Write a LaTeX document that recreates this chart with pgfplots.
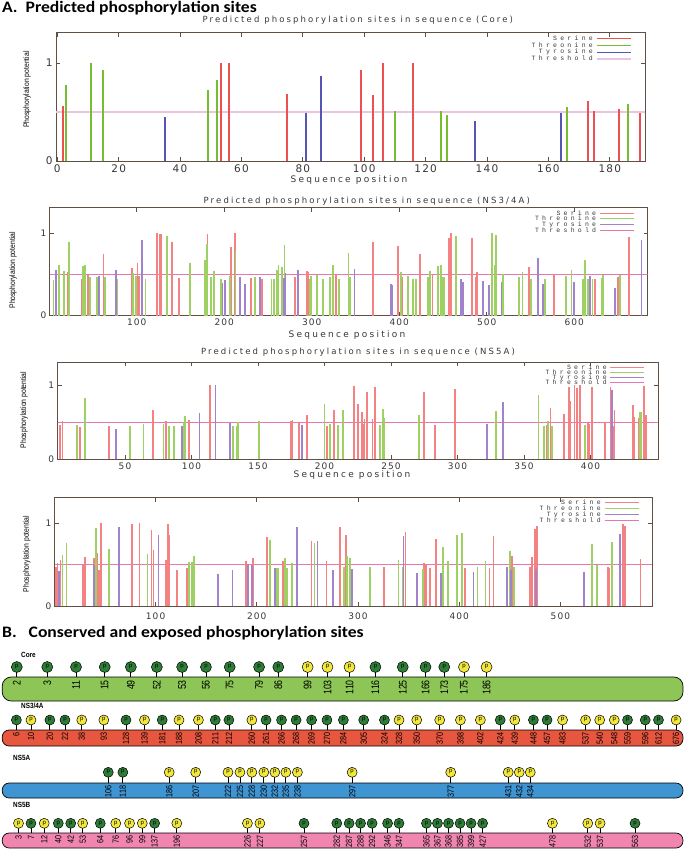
\documentclass[border=0pt]{standalone}
\usepackage{fontspec}
\usepackage{pgfplots}
\pgfplotsset{compat=1.18}
\setmainfont{Liberation Sans}
\newfontfamily\gpfont[LetterSpace=12]{DejaVu Sans}
\newfontfamily\ttlfont[LetterSpace=25]{DejaVu Sans}
\newfontfamily\legfont[LetterSpace=50]{Liberation Mono}
\newfontfamily\narrowfont[FakeStretch=0.85]{Liberation Sans}
\newfontfamily\numfont[FakeStretch=0.8]{Liberation Sans}
\newfontfamily\headfont[FakeStretch=1.1]{Carlito}
\definecolor{axc}{RGB}{95,80,70}
\definecolor{txt}{RGB}{55,55,55}
\definecolor{serC}{RGB}{236,80,80}
\definecolor{thrC}{RGB}{120,188,50}
\definecolor{tyrC}{RGB}{85,85,180}
\definecolor{thlC}{RGB}{236,196,224}
\definecolor{ser}{RGB}{244,130,130}
\definecolor{thr}{RGB}{158,208,100}
\definecolor{tyr}{RGB}{160,130,205}
\definecolor{thl}{RGB}{228,120,175}
\definecolor{coreBar}{RGB}{141,198,86}
\definecolor{nsBar}{RGB}{231,86,62}
\definecolor{naBar}{RGB}{63,148,210}
\definecolor{nbBar}{RGB}{240,134,176}
\definecolor{headG}{RGB}{45,125,55}
\definecolor{headY}{RGB}{242,232,60}
\pgfplotsset{
 phos/.style={scale only axis, anchor=south west,
  axis line style={draw=axc, line width=1pt},
  every tick/.style={draw=axc, line width=0.8pt},
  major tick length=4pt, tick align=inside, xtick pos=both, ytick pos=both,
  ymin=0, ymax=1.31, ytick={0,1}, yticklabels={0,1},
  ticklabel style={font=\gpfont\fontsize{9}{9}\selectfont, text=txt},
  /pgf/number format/assume math mode=true,
  legend cell align=right, legend plot pos=right,
  legend style={draw=none, fill=none, font=\legfont\fontsize{6.5}{6.5}\selectfont, text=txt,
    inner sep=0pt, column sep=3pt, anchor=north east,
    nodes={inner sep=0.4pt, text height=4pt, text depth=0pt}},
  legend image code/.code={\draw[##1] (0pt,0pt) -- (34pt,0pt);},
  title style={font=\ttlfont\fontsize{8.5}{8.5}\selectfont, text=txt, anchor=center, yshift=0pt},
  xlabel style={font=\ttlfont\fontsize{9}{9}\selectfont, text=txt, anchor=center},
  ylabel style={font=\narrowfont\fontsize{8}{8}\selectfont, text=black, anchor=center}},
 bars/.style={ycomb, line width=1.7pt, forget plot},
 headbase/.style={only marks, mark=*, mark size=5pt,
  error bars/y dir=minus, error bars/y fixed=#1, error bars/error mark=none,
  error bars/error bar style={black, line width=0.8pt},
  nodes near coords={p}, every node near coord/.append style={anchor=center, inner sep=0pt, yshift=0.3pt, font=\fontsize{6}{6}\selectfont, text=black}},
 headG/.style={headbase=#1, mark options={fill=headG, draw=black, line width=0.5pt}},
 headY/.style={headbase=#1, mark options={fill=headY, draw=black, line width=0.5pt}},
 nums/.style={draw=none, nodes near coords, point meta=explicit symbolic,
  every node near coord/.append style={rotate=90, anchor=east, inner sep=0pt, font=\numfont\fontsize{#1}{#1}\selectfont, text=black}}
}
\begin{document}
\begin{tikzpicture}[x=1pt,y=1pt]
\path[use as bounding box] (0,0) rectangle (685,-852);
\node[anchor=west, inner sep=0pt, font=\headfont\bfseries\fontsize{16}{16}\selectfont] at (2,-8.5) {A.\ \ Predicted phosphorylation sites};
\node[anchor=west, inner sep=0pt, font=\headfont\bfseries\fontsize{16}{16}\selectfont] at (2,-633) {B.\ \ \ Conserved and exposed phosphorylation sites};

% ---------------- Core
\begin{axis}[phos, at={(56pt,-161pt)}, width=589.4pt, height=128.3pt,
  xmin=-0.4, xmax=191.6, xtick={0,20,...,180},
  ticklabel style={font=\gpfont\fontsize{10.5}{10.5}\selectfont},
  title={Predicted phosphorylation sites in sequence (Core)},
  title style={at={(axis description cs:0.512,1.052)}},
  xlabel={Sequence position}, xlabel style={at={(axis description cs:0.497,-0.148)}},
  ylabel={Phosphorylation potential}, ylabel style={at={(axis description cs:-0.049,0.557)}},
  legend style={at={(0.978,0.975)}, row sep=1.9pt}]
\addlegendimage{serC, line width=0.8pt}\addlegendentry{Serine}
\addlegendimage{thrC, line width=0.8pt}\addlegendentry{Threonine}
\addlegendimage{tyrC, line width=0.8pt}\addlegendentry{Tyrosine}
\addlegendimage{thlC, line width=2pt}\addlegendentry{Threshold}
\addplot[thlC, line width=2.5pt, forget plot] coordinates {(-0.4,0.5) (191.6,0.5)};
\addplot[bars, serC, line width=2pt] coordinates {(2,0.56) (53.2,1.0) (56,1.0) (75,0.68) (99,0.93) (103,0.67) (106,1.0) (116,1.0) (173,0.61) (175,0.51) (183,0.53) (190,0.49)};
\addplot[bars, thrC, line width=2pt] coordinates {(3,0.78) (11,1.0) (15,0.925) (49,0.73) (52,0.83) (110,0.51) (125,0.51) (127,0.47) (166,0.55) (186,0.58)};
\addplot[bars, tyrC, line width=2pt] coordinates {(35,0.45) (81,0.49) (86,0.87) (136,0.41) (164,0.49)};
\end{axis}

% ---------------- NS3/4A
\begin{axis}[phos, at={(50pt,-315.7pt)}, width=597.7pt, height=108pt,
  xmin=0.9, xmax=684, xtick={100,200,...,600},
  title={Predicted phosphorylation sites in sequence (NS3/4A)},
  title style={at={(axis description cs:0.53,1.006)}},
  xlabel={Sequence position}, xlabel style={at={(axis description cs:0.497,-0.179)}},
  ylabel={Phosphorylation potential}, ylabel style={at={(axis description cs:-0.062,0.42)}},
  legend style={at={(0.978,0.975)}, row sep=1pt}]
\addlegendimage{ser, line width=0.8pt}\addlegendentry{Serine}
\addlegendimage{thr, line width=0.8pt}\addlegendentry{Threonine}
\addlegendimage{tyr, line width=0.8pt}\addlegendentry{Tyrosine}
\addlegendimage{thl, line width=0.8pt}\addlegendentry{Threshold}
\addplot[thl, line width=0.8pt, forget plot] coordinates {(0.9,0.5) (684,0.5)};
\addplot[bars, ser] coordinates {(21,0.53) (37,0.44) (44,0.49) (62,0.75) (95,0.58) (101,0.64) (103,0.48) (123,1.0) (126,0.99) (128,0.99) (140,0.89) (148,0.46) (181,0.99) (189,0.52) (208,0.83) (212,1.0) (231,0.46) (243,0.44) (281,0.465) (295,0.54) (296,0.525) (328,0.50) (370,0.90) (399,0.85) (403,0.47) (424,0.75) (438,0.50) (457,0.94) (459,1.0) (483,0.94) (488,0.47) (489,0.53) (548,0.595) (577,0.50) (624,0.445) (650,0.47) (663,0.96)};
\addplot[bars, thr] coordinates {(5,0.43) (11,0.61) (17,0.54) (23,0.89) (39,0.60) (41,0.615) (47,0.47) (55,0.47) (64,0.47) (78,0.445) (96,0.52) (99,0.485) (110,0.445) (135,0.97) (161,0.645) (178,0.68) (180,0.87) (185,0.47) (188,0.54) (196,0.45) (207,0.48) (213,0.79) (235,0.47) (254,0.45) (257,0.45) (260,0.555) (262,0.61) (266,0.59) (269,0.86) (298,0.45) (299,0.48) (306,0.49) (313,0.45) (321,0.47) (324,0.615) (331,0.445) (342,0.76) (344,0.47) (402,0.53) (410,0.485) (416,0.45) (419,0.44) (433,0.47) (435,0.54) (444,0.60) (445,0.46) (448,0.61) (449,0.465) (451,0.465) (465,0.97) (506,1.0) (509,0.61) (511,0.98) (519,0.51) (537,0.47) (541,0.53) (551,0.45) (567,0.45) (591,0.48) (597,0.55) (610,0.45) (612,0.67) (616,0.45) (621,0.445) (632,0.46) (633,0.49) (652,0.49)};
\addplot[bars, tyr] coordinates {(8,0.555) (57,0.485) (76,0.555) (106,0.92) (198,0.40) (201,0.43) (218,0.47) (224,0.38) (241,0.465) (268,0.46) (270,0.52) (284,0.56) (349,0.57) (391,0.38) (392,0.37) (471,0.45) (473,0.41) (496,0.42) (503,0.37) (517,0.41) (559,0.70) (564,0.38) (600,0.41) (618,0.48) (647,0.34) (677,0.92)};
\end{axis}

% ---------------- NS5A
\begin{axis}[phos, at={(57.7pt,-459.3pt)}, width=600.6pt, height=97.3pt,
  xmin=-0.6, xmax=451, xtick={50,100,...,400},
  title={Predicted phosphorylation sites in sequence (NS5A)},
  title style={at={(axis description cs:0.5,1.041)}},
  xlabel={Sequence position}, xlabel style={at={(axis description cs:0.49,-0.161)}},
  ylabel={Phosphorylation potential}, ylabel style={at={(axis description cs:-0.056,0.507)}},
  legend style={at={(0.978,0.975)}, row sep=0.3pt}]
\addlegendimage{ser, line width=0.8pt}\addlegendentry{Serine}
\addlegendimage{thr, line width=0.8pt}\addlegendentry{Threonine}
\addlegendimage{tyr, line width=0.8pt}\addlegendentry{Tyrosine}
\addlegendimage{thl, line width=0.8pt}\addlegendentry{Threshold}
\addplot[thl, line width=0.8pt, forget plot] coordinates {(-0.6,0.5) (451,0.5)};
\addplot[bars, ser] coordinates {(1,0.46) (3,0.51) (16,0.44) (38,0.45) (71,0.67) (81,0.52) (98,0.53) (114,1.0) (175,0.52) (176,0.53) (181,0.49) (187,0.60) (202,0.45) (207,0.67) (222,0.99) (225,0.75) (228,0.64) (229,0.48) (230,0.54) (232,0.91) (236,0.54) (238,0.98) (275,0.91) (283,0.46) (298,0.95) (367,0.46) (370,0.69) (380,0.61) (384,0.97) (385,0.78) (388,1.0) (390,0.96) (392,1.0) (398,0.49) (399,0.47) (401,0.98) (411,0.50) (415,0.97) (417,0.45) (418,0.67) (432,0.725) (433,0.57) (436,0.56) (440,0.99) (442,0.59)};
\addplot[bars, thr] coordinates {(14,0.46) (20,0.83) (54,0.45) (64,0.48) (79,0.48) (83,0.45) (87,0.45) (94,0.50) (95,0.58) (131,0.45) (134,0.45) (135,0.50) (151,0.52) (200,0.75) (204,0.47) (210,0.46) (214,0.67) (242,0.46) (244,0.68) (245,0.56) (271,0.60) (329,0.65) (361,0.87) (365,0.45) (368,0.52) (371,0.45) (396,0.46) (437,0.64) (438,0.64)};
\addplot[bars, tyr] coordinates {(43,0.41) (93,0.45) (106,0.62) (118,0.995) (129,0.49) (183,0.465) (322,0.48) (334,0.775) (416,0.93)};
\end{axis}

% ---------------- NS5B
\begin{axis}[phos, at={(55pt,-606pt)}, width=597.3pt, height=108.3pt,
  xmin=0.6, xmax=590.8, xtick={100,200,...,500},
  xticklabel style={yshift=-3pt},
  ylabel={Phosphorylation potential}, ylabel style={at={(axis description cs:-0.047,0.48)}},
  legend style={at={(0.978,0.978)}, row sep=1.2pt}]
\addlegendimage{ser, line width=0.8pt}\addlegendentry{Serine}
\addlegendimage{thr, line width=0.8pt}\addlegendentry{Threonine}
\addlegendimage{tyr, line width=0.8pt}\addlegendentry{Tyrosine}
\addlegendimage{thl, line width=0.8pt}\addlegendentry{Threshold}
\addplot[thl, line width=0.8pt, forget plot] coordinates {(0.6,0.5) (590.8,0.5)};
\addplot[bars, ser] coordinates {(1.6,0.475) (3,0.52) (6,0.56) (28,0.49) (30,0.59) (39,0.58) (42,0.64) (44,0.435) (46,1.0) (77,0.99) (84,1.0) (96,0.92) (98,0.68) (110,0.56) (112,0.99) (113.5,0.86) (121,0.44) (131,0.46) (189,0.54) (196,0.58) (210,0.83) (226,0.54) (254,0.79) (269,0.54) (282,0.96) (288,0.86) (326,0.47) (347,0.89) (365,0.52) (367,0.51) (371,0.455) (377,0.81) (406,0.455) (430,0.46) (434,0.85) (452,0.61) (470,0.475) (472,0.59) (475,0.93) (477,0.97) (547,0.475) (548,0.46) (562,0.99) (564,0.97) (579,0.57)};
\addplot[bars, thr] coordinates {(8,0.62) (12,0.76) (40,0.50) (41,0.94) (54,0.69) (92,0.625) (133,0.53) (136,0.53) (138,0.60) (213,0.80) (219,0.455) (221,0.455) (228,0.585) (230,0.46) (235,0.52) (257,0.76) (286,0.47) (289,0.60) (292,0.58) (312,0.475) (340,0.56) (344,0.475) (364,0.45) (384,0.71) (389,0.54) (398,0.86) (403,0.88) (418,0.475) (426,0.545) (450,0.665) (454,0.475) (531,0.745) (536,0.50) (551,0.77)};
\addplot[bars, tyr] coordinates {(4.5,0.42) (39,0.49) (64,0.96) (103,0.86) (162,0.39) (176,0.435) (191,0.50) (195,0.50) (218,0.455) (240,0.95) (260,0.79) (275,0.435) (294,0.45) (345,0.85) (358,0.395) (382,0.40) (414,0.415) (447,0.475) (451,0.435) (476,0.45) (523,0.41) (559,0.87)};
\end{axis}

% ---------------- Part B
\begin{axis}[scale only axis, anchor=south west, at={(0pt,-852pt)}, width=685pt, height=200pt,
  xmin=0, xmax=676.9, ymin=-852, ymax=-652, hide axis, clip=false]
\addplot[fill=coreBar, draw=black, line width=0.7pt, rounded corners=9pt] coordinates {(2.2,-701) (674.9,-701) (674.9,-677) (2.2,-677)} -- cycle;
\addplot[fill=nsBar, draw=black, line width=0.7pt, rounded corners=7pt] coordinates {(2.2,-746) (674.9,-746) (674.9,-730) (2.2,-730)} -- cycle;
\addplot[fill=naBar, draw=black, line width=0.7pt, rounded corners=7pt] coordinates {(2.2,-798) (674.9,-798) (674.9,-783) (2.2,-783)} -- cycle;
\addplot[fill=nbBar, draw=black, line width=0.7pt, rounded corners=7pt] coordinates {(2.2,-848) (674.9,-848) (674.9,-833) (2.2,-833)} -- cycle;
% Core
\addplot[headG=10, mark size=5.5pt] table[row sep=\\]{x y\\ 16.6 -667\\ 46.7 -667\\ 75.1 -667\\ 103.5 -667\\ 129.3 -667\\ 155 -667\\ 180 -667\\ 203.5 -667\\ 227 -667\\ 256 -667\\ 275 -667\\ 371 -667\\ 398 -667\\ 420.5 -667\\ 439 -667\\};
\addplot[headY=10, mark size=5.5pt] table[row sep=\\]{x y\\ 304 -667\\ 323.6 -667\\ 345.4 -667\\ 458.5 -667\\ 480.8 -667\\};
\addplot[nums=11] table[row sep=\\, meta=n]{x y n\\ 16.6 -680 2\\ 46.7 -680 3\\ 75.1 -680 11\\ 103.5 -680 15\\ 129.3 -680 49\\ 155 -680 52\\ 180 -680 53\\ 203.5 -680 56\\ 227 -680 75\\ 256 -680 79\\ 275 -680 86\\ 304 -680 99\\ 323.6 -680 103\\ 345.4 -680 110\\ 371 -680 116\\ 398 -680 125\\ 420.5 -680 166\\ 439 -680 173\\ 458.5 -680 175\\ 480.8 -680 186\\};
% NS3/4A
\addplot[headG=10] table[row sep=\\]{x y\\ 16.2 -720\\ 49.3 -720\\ 64.2 -720\\ 124.5 -720\\ 160.3 -720\\ 212.7 -720\\ 226.2 -720\\ 262.9 -720\\ 278.2 -720\\ 292.6 -720\\ 307.9 -720\\ 323.1 -720\\ 339.3 -720\\ 359.4 -720\\ 379.9 -720\\ 494.3 -720\\ 527.1 -720\\ 540.6 -720\\ 620.1 -720\\ 637.6 -720\\ 650.7 -720\\};
\addplot[headY=10] table[row sep=\\]{x y\\ 30.6 -720\\ 80.8 -720\\ 102.6 -720\\ 142.8 -720\\ 176.9 -720\\ 196.1 -720\\ 248.9 -720\\ 394.3 -720\\ 411.8 -720\\ 434.5 -720\\ 455 -720\\ 474.7 -720\\ 508.7 -720\\ 555.9 -720\\ 578.6 -720\\ 592.6 -720\\ 607 -720\\ 668.1 -720\\};
\addplot[nums=9] table[row sep=\\, meta=n]{x y n\\ 16.2 -732.5 6\\ 30.6 -732.5 10\\ 49.3 -732.5 20\\ 64.2 -732.5 22\\ 80.8 -732.5 38\\ 102.6 -732.5 93\\ 124.5 -732.5 128\\ 142.8 -732.5 139\\ 160.3 -732.5 181\\ 176.9 -732.5 188\\ 196.1 -732.5 208\\ 212.7 -732.5 211\\ 226.2 -732.5 212\\ 248.9 -732.5 260\\ 262.9 -732.5 261\\ 278.2 -732.5 266\\ 292.6 -732.5 268\\ 307.9 -732.5 269\\ 323.1 -732.5 270\\ 339.3 -732.5 284\\ 359.4 -732.5 305\\ 379.9 -732.5 324\\ 394.3 -732.5 328\\ 411.8 -732.5 350\\ 434.5 -732.5 370\\ 455 -732.5 398\\ 474.7 -732.5 402\\ 494.3 -732.5 424\\ 508.7 -732.5 439\\ 527.1 -732.5 448\\ 540.6 -732.5 457\\ 555.9 -732.5 483\\ 578.6 -732.5 537\\ 592.6 -732.5 540\\ 607 -732.5 548\\ 620.1 -732.5 559\\ 637.6 -732.5 596\\ 650.7 -732.5 612\\ 668.1 -732.5 676\\};
% NS5A
\addplot[headG=11] table[row sep=\\]{x y\\ 107 -772.3\\ 121.4 -772.3\\};
\addplot[headY=11] table[row sep=\\]{x y\\ 167.2 -772.3\\ 193.4 -772.3\\ 225.3 -772.3\\ 237.1 -772.3\\ 248.9 -772.3\\ 260.7 -772.3\\ 271.6 -772.3\\ 282.5 -772.3\\ 293.9 -772.3\\ 348 -772.3\\ 445.4 -772.3\\ 502.2 -772.3\\ 513.1 -772.3\\ 524 -772.3\\};
\addplot[nums=9] table[row sep=\\, meta=n]{x y n\\ 107 -785.5 106\\ 121.4 -785.5 118\\ 167.2 -785.5 186\\ 193.4 -785.5 207\\ 225.3 -785.5 222\\ 237.1 -785.5 225\\ 248.9 -785.5 228\\ 260.7 -785.5 230\\ 271.6 -785.5 232\\ 282.5 -785.5 235\\ 293.9 -785.5 238\\ 348 -785.5 297\\ 445.4 -785.5 377\\ 502.2 -785.5 431\\ 513.1 -785.5 432\\ 524 -785.5 434\\};
% NS5B
\addplot[headG=10] table[row sep=\\]{x y\\ 30.6 -823.3\\ 57.6 -823.3\\ 69.9 -823.3\\ 99.1 -823.3\\ 152.8 -823.3\\ 300.4 -823.3\\ 332.8 -823.3\\ 345 -823.3\\ 356.3 -823.3\\ 367.7 -823.3\\ 383 -823.3\\ 394.3 -823.3\\ 421.4 -823.3\\ 432.3 -823.3\\ 443.2 -823.3\\ 454.6 -823.3\\ 465.5 -823.3\\ 476.9 -823.3\\ 627.5 -823.3\\};
\addplot[headY=10] table[row sep=\\]{x y\\ 18.3 -823.3\\ 43.7 -823.3\\ 81.7 -823.3\\ 114.4 -823.3\\ 128 -823.3\\ 140.6 -823.3\\ 174.7 -823.3\\ 244.5 -823.3\\ 256.8 -823.3\\ 545.9 -823.3\\ 580.8 -823.3\\ 593 -823.3\\};
\addplot[nums=9] table[row sep=\\, meta=n]{x y n\\ 18.3 -835.5 3\\ 30.6 -835.5 7\\ 43.7 -835.5 12\\ 57.6 -835.5 40\\ 69.9 -835.5 42\\ 81.7 -835.5 53\\ 99.1 -835.5 64\\ 114.4 -835.5 76\\ 128 -835.5 96\\ 140.6 -835.5 99\\ 152.8 -835.5 137\\ 174.7 -835.5 196\\ 244.5 -835.5 226\\ 256.8 -835.5 227\\ 300.4 -835.5 257\\ 332.8 -835.5 282\\ 345 -835.5 287\\ 356.3 -835.5 288\\ 367.7 -835.5 292\\ 383 -835.5 346\\ 394.3 -835.5 347\\ 421.4 -835.5 365\\ 432.3 -835.5 367\\ 443.2 -835.5 368\\ 454.6 -835.5 385\\ 465.5 -835.5 399\\ 476.9 -835.5 427\\ 545.9 -835.5 478\\ 580.8 -835.5 532\\ 593 -835.5 537\\ 627.5 -835.5 563\\};
\end{axis}
\node[anchor=west, inner sep=0pt, font=\narrowfont\bfseries\fontsize{7.5}{7.5}\selectfont] at (21,-655) {Core};
\node[anchor=west, inner sep=0pt, font=\narrowfont\bfseries\fontsize{7.5}{7.5}\selectfont] at (21,-706) {NS3/4A};
\node[anchor=west, inner sep=0pt, font=\narrowfont\bfseries\fontsize{7.5}{7.5}\selectfont] at (13,-758) {NS5A};
\node[anchor=west, inner sep=0pt, font=\narrowfont\bfseries\fontsize{7.5}{7.5}\selectfont] at (13,-805) {NS5B};
\end{tikzpicture}
\end{document}
